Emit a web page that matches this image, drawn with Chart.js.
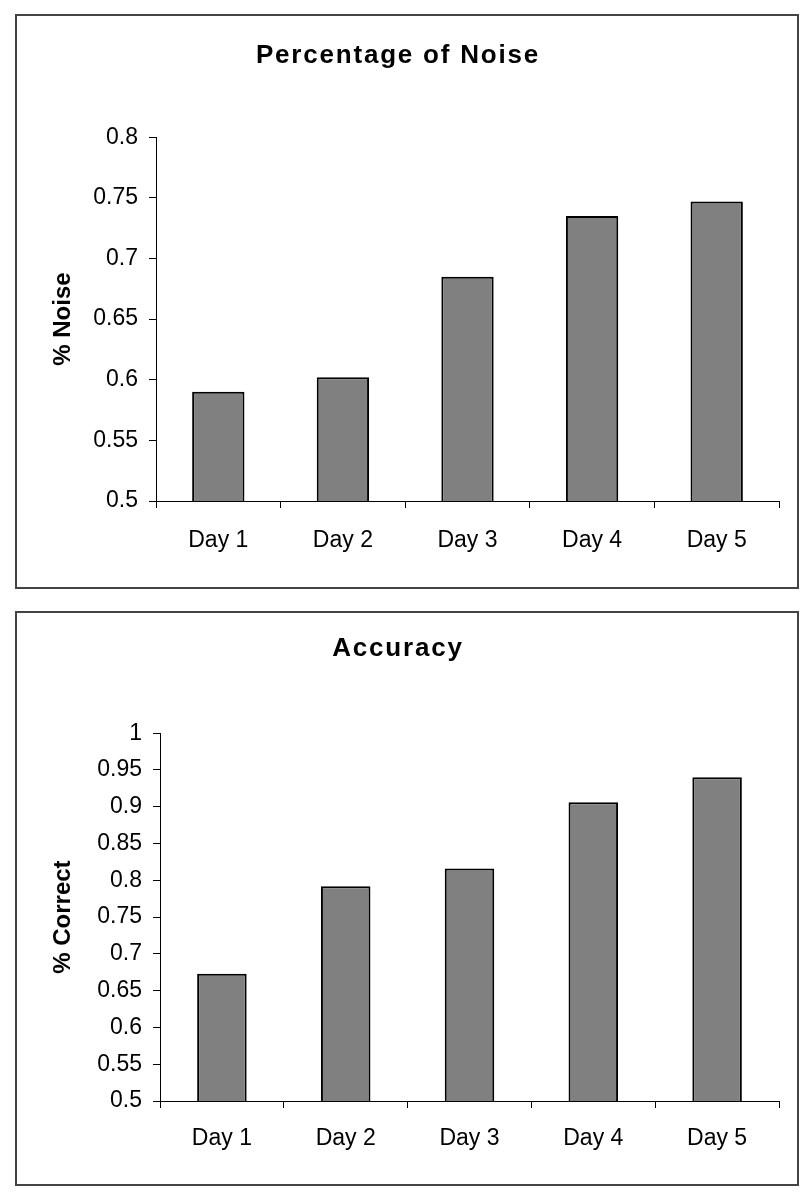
<!DOCTYPE html>
<html>
<head>
<meta charset="utf-8">
<script src="https://cdn.jsdelivr.net/npm/chart.js@4"></script>
<style>
  body { margin: 0; background: #fff; }
  .box { position: absolute; left: 15px; width: 780px; height: 571px; border: 2px solid #444; background: #fff; }
  #box1 { top: 14px; }
  #box2 { top: 611px; }
  canvas { display: block; }
</style>
</head>
<body>
<div class="box" id="box1"><canvas id="noiseChart" width="780" height="571"></canvas></div>
<div class="box" id="box2"><canvas id="accuracyChart" width="780" height="571"></canvas></div>
<script>
var days = ['Day 1', 'Day 2', 'Day 3', 'Day 4', 'Day 5'];

var noiseValues = [0.590, 0.602, 0.685, 0.735, 0.747];
var noiseTicks = ['0.5', '0.55', '0.6', '0.65', '0.7', '0.75', '0.8'];

var accuracyValues = [0.673, 0.792, 0.816, 0.906, 0.940];
var accuracyTicks = ['0.5', '0.55', '0.6', '0.65', '0.7', '0.75', '0.8', '0.85', '0.9', '0.95', '1'];

var FONT = "'Liberation Sans', Arial, sans-serif";

// the original titles are set a little wider than plain bold Arial
var spacedTitle = {
    id: 'spacedTitle',
    afterLayout: function (chart) {
        var tb = chart.titleBlock;
        if (!tb || tb._spaced) return;
        var draw = tb.draw.bind(tb);
        tb.draw = function () {
            chart.ctx.save();
            chart.ctx.letterSpacing = '1.8px';
            draw();
            chart.ctx.restore();
        };
        tb._spaced = true;
    }
};

function barChart(canvasId, title, yTitle, values, tickLabels, yMax, o) {
    var ctx = document.getElementById(canvasId).getContext('2d');

    return new Chart(ctx, {
        type: 'bar',
        data: {
            labels: days,
            datasets: [{
                data: values,
                backgroundColor: '#808080',
                borderColor: '#000',
                borderWidth: 2,
                borderSkipped: 'start',
                barPercentage: o.barPct,
                categoryPercentage: 1
            }]
        },
        plugins: [spacedTitle],
        options: {
            responsive: false,
            animation: false,
            layout: { padding: { left: 0, right: 18, top: 0, bottom: 0 } },
            plugins: {
                legend: { display: false },
                tooltip: { enabled: false },
                title: {
                    display: true,
                    text: title,
                    color: '#000',
                    font: { family: FONT, size: 26, weight: 'bold' },
                    padding: { top: o.titleTop, bottom: o.titleBottom }
                }
            },
            scales: {
                x: {
                    offset: true,
                    grid: { display: true, offset: true, drawOnChartArea: false, drawTicks: true, tickLength: 7, color: '#000', lineWidth: 1 },
                    border: { display: true, color: '#000', width: 1 },
                    ticks: { color: '#000', font: { family: FONT, size: 23 }, padding: o.xPad, maxRotation: 0 },
                    afterFit: function (scale) { scale.height = o.xHeight; }
                },
                y: {
                    min: 0.5,
                    max: yMax,
                    grid: { display: true, drawOnChartArea: false, drawTicks: true, tickLength: 7, color: '#000', lineWidth: 1 },
                    border: { display: true, color: '#000', width: 1 },
                    ticks: {
                        stepSize: 0.05,
                        color: '#000',
                        font: { family: FONT, size: 23 },
                        padding: 11,
                        callback: function (value, index) { return tickLabels[index]; }
                    },
                    title: {
                        display: true,
                        text: yTitle,
                        color: '#000',
                        font: { family: FONT, size: 24, weight: 'bold' },
                        padding: { top: 32, bottom: 0 }
                    },
                    afterFit: function (scale) { scale.width = o.yWidth; }
                }
            }
        }
    });
}

barChart('noiseChart', 'Percentage of Noise', '% Noise', noiseValues, noiseTicks, 0.8,
    { barPct: 0.42, titleTop: 24, titleBottom: 66, xHeight: 86, xPad: 19, yWidth: 139 });

barChart('accuracyChart', 'Accuracy', '% Correct', accuracyValues, accuracyTicks, 1,
    { barPct: 0.40, titleTop: 20, titleBottom: 69, xHeight: 83, xPad: 17, yWidth: 143 });
</script>
</body>
</html>
